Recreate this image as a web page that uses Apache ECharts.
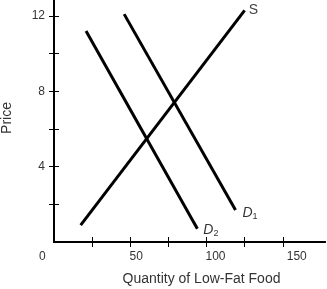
<!DOCTYPE html>
<html><head><meta charset="utf-8">
<script src="https://cdn.jsdelivr.net/npm/echarts@6/dist/echarts.min.js"></script>
<style>html,body{margin:0;padding:0;background:#fff}#c{width:327px;height:289px}</style>
</head><body><div id="c"></div>
<script>
var supply = [[17.5, 0.9], [125, 12.3]];
var demand1 = [[46, 12.1], [119, 1.7]];
var demand2 = [[21, 11.2], [94, 0.7]];
var xTicks = [25, 50, 75, 100, 125, 150];
var xLabels = [50, 100, 150];
var yTicks = [2, 4, 6, 8, 10, 12];
var yLabels = [4, 8, 12];

var FONT = 'Liberation Sans, Arial, sans-serif';
var XMAX = 177.7, YMAX = 12.85;
// horizontal nudge of each x label (style only)
var xLabelPad = {50: 12, 100: 18, 150: 28};
var xRich = {};
Object.keys(xLabelPad).forEach(function (k) {
  xRich['p' + k] = {padding: [0, 0, 0, xLabelPad[k]], color: '#333', fontSize: 12, fontFamily: FONT};
});
function xAxisCfg(inside, showLabel) {
  return {
    type: 'value', min: 0, max: XMAX, position: 'bottom', gridIndex: 0,
    splitLine: {show: false},
    axisLine: {show: true, onZero: false, lineStyle: {color: '#000', width: 2}},
    axisTick: {show: true, inside: inside, length: 5, customValues: xTicks, lineStyle: {color: '#000', width: 1}},
    axisLabel: {show: showLabel, customValues: xLabels, margin: 9, color: '#333', fontSize: 12, fontFamily: FONT,
      formatter: function (v) { return '{p' + v + '|' + v + '}'; }, rich: xRich},
    name: showLabel ? 'Quantity of Low-Fat Food' : '',
    nameLocation: 'middle', nameGap: 30,
    nameTextStyle: {color: '#333', fontSize: 14, fontFamily: FONT, padding: [0, 0, 0, 24]}
  };
}
function yAxisCfg(inside, showLabel) {
  return {
    type: 'value', min: 0, max: YMAX, position: 'left', gridIndex: 0,
    splitLine: {show: false},
    axisLine: {show: true, onZero: false, lineStyle: {color: '#000', width: 2}},
    axisTick: {show: true, inside: inside, length: 5, customValues: yTicks, lineStyle: {color: '#000', width: 1}},
    axisLabel: {show: showLabel, customValues: yLabels, margin: 9, color: '#333', fontSize: 12, fontFamily: FONT},
    name: showLabel ? 'Price' : '',
    nameLocation: 'middle', nameGap: 40, nameRotate: 90,
    nameTextStyle: {color: '#333', fontSize: 14, fontFamily: FONT, padding: [0, 0, 0, 6]}
  };
}
function lineSeries(data, endLabel) {
  return {
    type: 'line', data: data, symbol: 'none', xAxisIndex: 0, yAxisIndex: 0,
    lineStyle: {color: '#000', width: 3}, silent: true, animation: false,
    endLabel: endLabel
  };
}
var rich = {
  d: {fontStyle: 'italic', fontSize: 14, fontFamily: FONT, color: '#333'},
  s: {fontSize: 9, fontFamily: FONT, color: '#333', padding: [7, 0, 0, 0]}
};
var chart = echarts.init(document.getElementById('c'), null, {renderer: 'canvas'});
chart.setOption({
  animation: false,
  grid: {left: 54, right: 2, top: 0, bottom: 47, containLabel: false, outerBoundsMode: 'none'},
  xAxis: [xAxisCfg(false, true), xAxisCfg(true, false)],
  yAxis: [yAxisCfg(false, true), yAxisCfg(true, false)],
  series: [
    lineSeries(supply, {show: true, formatter: 'S', distance: 4, offset: [0, 0], color: '#444', fontSize: 14, fontFamily: FONT}),
    lineSeries(demand1, {show: true, formatter: '{d|D}{s|1}', rich: rich, distance: 7, offset: [0, 3]}),
    lineSeries(demand2, {show: true, formatter: '{d|D}{s|2}', rich: rich, distance: 6, offset: [0, 1]})
  ],
  graphic: [{type: 'text', left: 39, top: 251, style: {text: '0', fill: '#333', font: '12px ' + FONT}}]
});
</script></body></html>
